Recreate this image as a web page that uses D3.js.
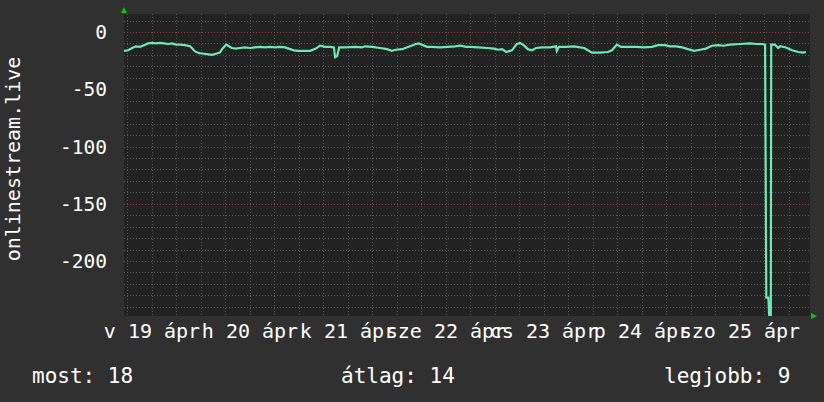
<!DOCTYPE html>
<html>
<head>
<meta charset="utf-8">
<script src="https://cdn.jsdelivr.net/npm/d3@7"></script>
<style>
  body { margin: 0; background: #303030; }
  svg text { font-family: "DejaVu Sans Mono", monospace; fill: #ffffff; }
</style>
</head>
<body>
<svg id="chart" width="824" height="402"></svg>
<script>
// adatok: órák a kezdettől (2020-04-19 05:09 UTC) és érték
const hours = [0.0, 1.0, 2.0, 2.9, 3.9, 4.9, 5.9, 6.9, 7.8, 8.8, 9.8, 10.8, 11.8, 12.7, 13.7, 14.9,
  16.2, 17.4, 18.4, 19.6, 20.6, 21.6, 22.5, 23.5, 24.0, 25.0, 25.7, 26.4, 27.4, 28.4, 29.6, 30.9,
  32.1, 33.3, 34.5, 35.8, 37.0, 38.2, 39.4, 40.7, 41.6, 42.6, 44.3, 45.6, 47.0, 48.0, 49.2, 50.4,
  51.4, 51.7, 52.2, 52.7, 54.1, 56.6, 58.3, 59.0, 60.7, 62.7, 64.4, 65.6, 66.6, 68.1, 71.5, 72.2,
  74.2, 75.4, 77.4, 79.3, 81.1, 82.3, 83.8, 84.7, 86.7, 88.9, 90.6, 91.6, 92.6, 93.6, 95.0, 96.2,
  97.0, 98.0, 98.9, 99.9, 100.9, 102.4, 104.3, 105.8, 106.0, 106.5, 108.2, 110.2, 111.7, 112.7,
  113.6, 114.6, 116.6, 118.5, 119.5, 120.7, 121.7, 123.4, 125.4, 127.3, 129.3, 130.8, 132.5,
  133.7, 135.2, 136.7, 138.1, 139.6, 141.1, 142.5, 144.0, 145.5, 146.9, 148.4, 150.9, 153.3,
  154.8, 156.2, 157.0, 157.3, 157.8, 158.0, 158.4, 158.5, 159.4, 160.2, 160.7, 162.1, 163.6, 165.1, 166.3, 167.0];
const values = [-16.5, -16, -14, -12.5, -13, -11.5, -10, -9.5, -10, -9.5, -10, -10.5, -10, -11, -11, -11.5,
  -12.5, -17, -18.5, -19, -19.5, -20, -19, -18, -15, -11, -12.5, -14, -14.5, -14, -13.5, -14,
  -13.5, -13, -13.5, -13, -13.5, -13, -13.5, -15, -16, -16.5, -16.5, -16.5, -14.5, -12, -13, -13,
  -13.5, -22, -21, -13.5, -13.5, -13, -13.5, -12.5, -13, -14, -15, -16.5, -15.5, -15, -10.5, -10,
  -13, -13, -13.5, -13, -12.5, -12, -13, -13, -13.5, -14, -14.5, -15.5, -15, -17.5, -16, -10.5,
  -9.5, -12, -15, -16, -14, -13.5, -13.5, -12.5, -16.5, -13, -13, -12.5, -13.5, -14,
  -16, -18, -18, -17.5, -16, -11, -13, -13, -13, -13.5, -13, -11.5, -11.5,
  -12.5, -12.5, -13.5, -15, -16.5, -15.5, -14.5, -12, -11.5, -12, -11, -10.5, -10,
  -10.5, -10.5, -11, -232, -232, -247, -247, -11, -11, -14, -12.5, -13.5, -16, -17.5, -18, -17.5];

const dayLabels = ["v 19 ápr", "h 20 ápr", "k 21 ápr", "sze 22 ápr", "cs 23 ápr", "p 24 ápr", "szo 25 ápr"];
const yTicks = [0, -50, -100, -150, -200];
const yTitle = "onlinestream.live";
const legendItems = [["most", 18], ["átlag", 14], ["legjobb", 9]];

const start = new Date(Date.UTC(2020, 3, 19, 5, 9));
const end = new Date(Date.UTC(2020, 3, 26, 5, 9));
const yDomain = [-248, 15.7];

const plot = {left: 124, right: 810, top: 14, bottom: 316};

const svg = d3.select("#chart");

const x = d3.scaleUtc().domain([start, end]).range([plot.left, plot.right]);
const y = d3.scaleLinear().domain(yDomain).range([plot.bottom, plot.top]);

svg.append("rect")
  .attr("width", 824).attr("height", 402)
  .attr("fill", "#303030");

svg.append("rect")
  .attr("x", plot.left).attr("y", plot.top)
  .attr("width", plot.right - plot.left).attr("height", plot.bottom - plot.top)
  .attr("fill", "#222222");

const grid = svg.append("g").attr("shape-rendering", "crispEdges");

// vízszintes rács
const minorY = d3.range(10, yDomain[0], -10).filter(v => v % 50 !== 0);
grid.selectAll(".hminor").data(minorY).enter().append("line")
  .attr("x1", plot.left).attr("x2", plot.right)
  .attr("y1", d => Math.round(y(d)) + 0.5).attr("y2", d => Math.round(y(d)) + 0.5)
  .attr("stroke", "#565656").attr("stroke-dasharray", "1,2");

// függőleges rács (6 óra / nap)
const minorX = d3.utcHour.every(6).range(start, end).filter(d => d.getUTCHours() !== 0);
grid.selectAll(".vminor").data(minorX).enter().append("line")
  .attr("x1", d => Math.round(x(d)) + 0.5).attr("x2", d => Math.round(x(d)) + 0.5)
  .attr("y1", plot.top).attr("y2", plot.bottom)
  .attr("stroke", "#565656").attr("stroke-dasharray", "1,2");

const majorX = d3.utcDay.range(start, end);
grid.selectAll(".vmajor").data(majorX).enter().append("line")
  .attr("x1", d => Math.round(x(d)) + 0.5).attr("x2", d => Math.round(x(d)) + 0.5)
  .attr("y1", plot.top).attr("y2", plot.bottom)
  .attr("stroke", "#8a3a3a").attr("stroke-dasharray", "1,2");

grid.selectAll(".hmajor").data(yTicks).enter().append("line")
  .attr("x1", plot.left).attr("x2", plot.right)
  .attr("y1", d => Math.round(y(d)) + 0.5).attr("y2", d => Math.round(y(d)) + 0.5)
  .attr("stroke", "#8a3a3a").attr("stroke-dasharray", "1,2");

// y tengely feliratok
svg.append("g").selectAll("text").data(yTicks).enter().append("text")
  .attr("x", 107).attr("y", d => y(d))
  .attr("dy", "0.36em")
  .attr("text-anchor", "end")
  .style("font-size", "19.5px")
  .text(d => d);

// x tengely feliratok (délben)
const noonDays = d3.utcDay.range(d3.utcDay.floor(start), end).map(d => d3.utcHour.offset(d, 12));
svg.append("g").selectAll("text").data(noonDays).enter().append("text")
  .attr("x", d => x(d)).attr("y", 338)
  .attr("text-anchor", "middle")
  .style("font-size", "20px")
  .text((d, i) => dayLabels[i]);

svg.append("text")
  .attr("transform", "translate(20,159) rotate(-90)")
  .attr("text-anchor", "middle")
  .style("font-size", "20px")
  .text(yTitle);

// adatvonal
const data = hours.map((h, i) => ({t: d3.utcMinute.offset(start, Math.round(h * 60)), v: values[i]}));
const line = d3.line().x(d => x(d.t)).y(d => y(d.v));
svg.append("path")
  .datum(data)
  .attr("d", line)
  .attr("fill", "none")
  .attr("stroke", "#6ee8b4")
  .attr("stroke-width", 2.2)
  .attr("stroke-linejoin", "miter");

// nyilak
svg.append("path")
  .attr("d", `M${plot.left},${plot.top - 7}L${plot.left - 3},${plot.top - 1}L${plot.left + 3},${plot.top - 1}Z`)
  .attr("fill", "#00cc00");
svg.append("path")
  .attr("d", `M${plot.right + 7},${plot.bottom}L${plot.right + 1},${plot.bottom - 3}L${plot.right + 1},${plot.bottom + 3}Z`)
  .attr("fill", "#00cc00");

// jelmagyarázat
const legendX = [32, 341, 664];
svg.append("g").selectAll("text").data(legendItems).enter().append("text")
  .attr("x", (d, i) => legendX[i]).attr("y", 383)
  .style("font-size", "21px")
  .text(d => d[0] + ": " + d[1]);
</script>
</body>
</html>
